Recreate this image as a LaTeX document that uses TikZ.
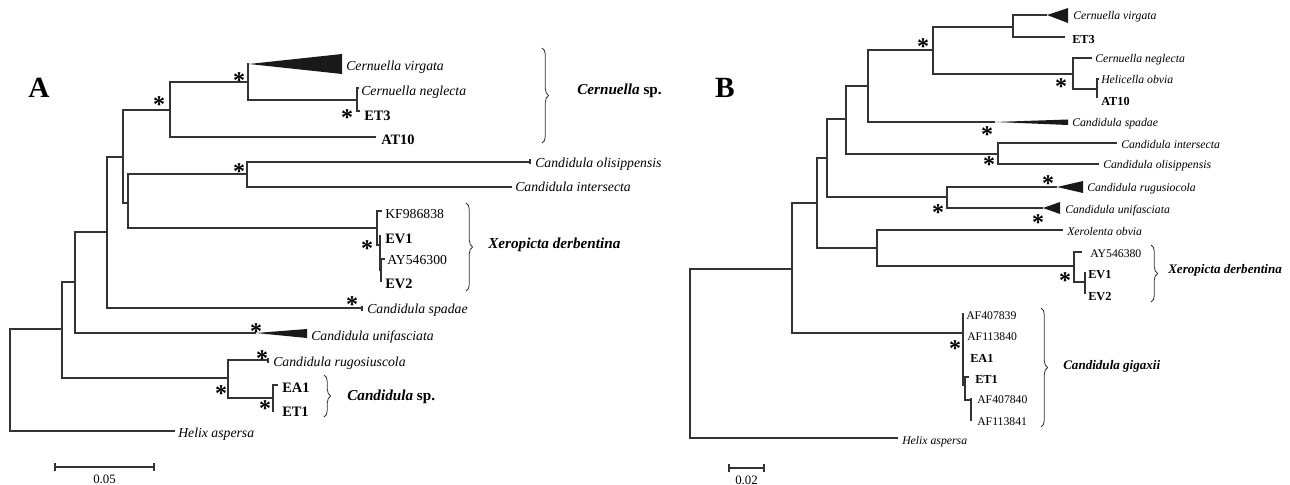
\documentclass[tikz,border=0pt]{standalone}
\usepackage{fontspec}
\setmainfont{Liberation Serif}
\usetikzlibrary{decorations.pathreplacing}
\begin{document}
\begin{tikzpicture}[x=0.75pt,y=-0.75pt,
  br/.style={draw=black!80, line width=0.8pt},
  tri/.style={fill=black!90},
  lA/.style={anchor=base west, inner sep=0pt, font=\fontsize{10.3}{12}\selectfont\itshape},
  lAb/.style={anchor=base west, inner sep=0pt, font=\fontsize{10.8}{12}\selectfont\bfseries},
  lAr/.style={anchor=base west, inner sep=0pt, font=\fontsize{10.3}{12}\selectfont},
  lB/.style={anchor=base west, inner sep=0pt, font=\fontsize{8.8}{10}\selectfont\itshape},
  lBb/.style={anchor=base west, inner sep=0pt, font=\fontsize{9.2}{10}\selectfont\bfseries},
  lBr/.style={anchor=base west, inner sep=0pt, font=\fontsize{8.8}{10}\selectfont},
  grpA/.style={anchor=base west, inner sep=0pt, font=\fontsize{11.4}{13}\selectfont\bfseries},
  grpB/.style={anchor=base west, inner sep=0pt, font=\fontsize{9.8}{11}\selectfont\bfseries},
  astk/.style={anchor=base, inner sep=0pt, yshift=-8.4pt, font=\fontsize{18}{18}\selectfont\bfseries},
  brc/.style={draw=black!80, line width=0.6pt, decorate, decoration={brace, amplitude=5pt}},
  panel/.style={anchor=base, inner sep=0pt, font=\fontsize{22}{24}\selectfont\bfseries},
  sclab/.style={anchor=base, inner sep=0pt, font=\fontsize{9.6}{11}\selectfont},
]
\path[use as bounding box] (0,0) rectangle (1290,485);

% ---------------- Tree A ----------------
\node[panel] (pA) at (39,98) {A};
\coordinate (rA) at (10,380);
\coordinate (a62) at (62,329);
\coordinate (a75) at (75,282);
\coordinate (a107) at (107,232);
\coordinate (a123) at (123,157);
\coordinate (a170) at (170,110);
\coordinate (a248) at (248,82);
\coordinate (a356) at (357,100);
\coordinate (a128) at (128,203);
\coordinate (a247) at (247,174);
\coordinate (a377) at (377,228);
\coordinate (a380) at (380,245);
\coordinate (a381) at (381,270);
\coordinate (a228) at (228,378);
\coordinate (a273) at (273,398);
\coordinate (lHelA) at (175,431);
\coordinate (lVirA) at (249,64);
\coordinate (lVirAt) at (342,54);
\coordinate (lVirAb) at (342,74);
\coordinate (lNegA) at (359,88);
\coordinate (lET3A) at (360,111);
\coordinate (lAT10A) at (376,137);
\coordinate (lOliA) at (530,162);
\coordinate (lIntA) at (512,187);
\coordinate (lKFA) at (382,211);
\coordinate (lEV1A) at (381,236);
\coordinate (lAYA) at (385,259);
\coordinate (lEV2A) at (381,282);
\coordinate (lSpaA) at (362,308);
\coordinate (lUniA) at (256,333);
\coordinate (lUniAt) at (307,329);
\coordinate (lUniAb) at (307,338);
\coordinate (lRugA) at (268,360);
\coordinate (lEA1A) at (278,385);
\coordinate (lET1A) at (274,411);

\foreach \p/\c in {rA/a62, rA/lHelA, a62/a75, a62/a228, a75/a107, a75/lUniA,
  a107/a123, a107/lSpaA, a123/a170, a123/a128, a170/a248, a170/lAT10A,
  a248/lVirA, a248/a356, a356/lNegA, a356/lET3A, a128/a247, a128/a377,
  a247/lOliA, a247/lIntA, a377/lKFA, a377/a380, a380/lEV1A, a380/a381,
  a381/lAYA, a381/lEV2A, a228/lRugA, a228/a273, a273/lEA1A, a273/lET1A}
  \draw[br] (\p) |- (\c);
\fill[tri] (lVirA) -- (lVirAt) -- (lVirAb) -- cycle;
\fill[tri] (lUniA) -- (lUniAt) -- (lUniAb) -- cycle;
\draw[br] (lOliA) ++(0,-2.5) -- ++(0,5);
\draw[br] (lSpaA) ++(0,-2.5) -- ++(0,5);
\draw[br] (lRugA) ++(0,-2.5) -- ++(0,5);

\node[lA] (tVirA) at (346,71) {Cernuella virgata};
\node[lA] (tNegA) at (361,96) {Cernuella neglecta};
\node[lAb] (tET3A) at (364,121) {ET3};
\node[lAb] (tAT10A) at (381,145) {AT10};
\node[lA] (tOliA) at (535,167) {Candidula olisippensis};
\node[lA] (tIntA) at (515,191) {Candidula intersecta};
\node[lAr] (tKFA) at (385,218) {KF986838};
\node[lAb] (tEV1A) at (385,243) {EV1};
\node[lAr] (tAYA) at (387,264) {AY546300};
\node[lAb] (tEV2A) at (385,288) {EV2};
\node[lA] (tSpaA) at (367,313) {Candidula spadae};
\node[lA] (tUniA) at (311,340) {Candidula unifasciata};
\node[lA] (tRugA) at (273,366) {Candidula rugosiuscola};
\node[lAb] (tEA1A) at (282,392) {EA1};
\node[lAb] (tET1A) at (282,416) {ET1};
\node[lA] (tHelA) at (178,437) {Helix aspersa};

\node[astk] (sA1) at (239,77) {*};
\node[astk] (sA2) at (159,101) {*};
\node[astk] (sA3) at (239,168) {*};
\node[astk] (sA4) at (347,114) {*};
\node[astk] (sA5) at (367,245) {*};
\node[astk] (sA6) at (352,301) {*};
\node[astk] (sA7) at (256,328) {*};
\node[astk] (sA8) at (262,355) {*};
\node[astk] (sA9) at (221,390) {*};
\node[astk] (sA10) at (265,405) {*};

\coordinate (bA1t) at (542,48); \coordinate (bA1b) at (542,143);
\coordinate (bA2t) at (466,203); \coordinate (bA2b) at (466,291);
\coordinate (bA3t) at (324,375); \coordinate (bA3b) at (324,417);
\draw[brc] (bA1t) -- (bA1b);
\draw[brc] (bA2t) -- (bA2b);
\draw[brc] (bA3t) -- (bA3b);
\node[grpA] (gA1) at (577,95) {\textit{Cernuella} sp.};
\node[grpA] (gA2) at (488,248) {\textit{Xeropicta derbentina}};
\node[grpA] (gA3) at (347,400) {\textit{Candidula} sp.};

\coordinate (scA1) at (55,467); \coordinate (scA2) at (154,467);
\draw[br] (scA1) -- (scA2);
\draw[br] (scA1) ++(0,-4) -- ++(0,8);
\draw[br] (scA2) ++(0,-4) -- ++(0,8);
\node[sclab] (scAt) at (104.5,483) {0.05};

% ---------------- Tree B ----------------
\node[panel] (pB) at (725,98) {B};
\coordinate (rB) at (690,300);
\coordinate (b792) at (792,269);
\coordinate (b817) at (817,203);
\coordinate (b827) at (827,158);
\coordinate (b846) at (846,119);
\coordinate (b868) at (868,86);
\coordinate (b933) at (933,50);
\coordinate (b1013) at (1013,27);
\coordinate (b1073) at (1073,74);
\coordinate (b1097) at (1097,89);
\coordinate (b998) at (998,154);
\coordinate (b947) at (947,197);
\coordinate (b877) at (877,248);
\coordinate (b1074) at (1074,266);
\coordinate (b1085) at (1085,282);
\coordinate (b963) at (963,333);
\coordinate (b967) at (965,385);
\coordinate (b972) at (971,400);

\coordinate (lHelB) at (898,438);
\coordinate (lVirB) at (1047,15);
\coordinate (lVirBt) at (1068,8);
\coordinate (lVirBb) at (1068,23);
\coordinate (lET3B) at (1065,37);
\coordinate (lNegB) at (1092,58);
\coordinate (lHceB) at (1099,79);
\coordinate (lAT10B) at (1097,98);
\coordinate (lSpaB) at (995,122);
\coordinate (lSpaBt) at (1068,119.5);
\coordinate (lSpaBb) at (1068,125);
\coordinate (lIntB) at (1117,143);
\coordinate (lOliB) at (1099,164);
\coordinate (lRugB) at (1057,187);
\coordinate (lRugBt) at (1083,181);
\coordinate (lRugBb) at (1083,193);
\coordinate (lUniB) at (1043,208);
\coordinate (lUniBt) at (1060,202);
\coordinate (lUniBb) at (1060,214);
\coordinate (lXobB) at (1063,230);
\coordinate (lAYB) at (1082,252);
\coordinate (lEV1B) at (1086,273);
\coordinate (lEV2B) at (1086,293);
\coordinate (lAF1B) at (963,313);
\coordinate (lAF2B) at (963,336);
\coordinate (lEA1B) at (963,358);
\coordinate (lET1B) at (969,377);
\coordinate (lAF3B) at (971,398);
\coordinate (lAF4B) at (971,421);

\foreach \p/\c in {rB/b792, rB/lHelB, b792/b817, b792/b963, b817/b827, b817/b877,
  b827/b846, b827/b947, b846/b868, b846/b998, b868/b933, b868/lSpaB,
  b933/b1013, b933/b1073, b1013/lVirB, b1013/lET3B, b1073/lNegB, b1073/b1097,
  b1097/lHceB, b1097/lAT10B, b998/lIntB, b998/lOliB, b947/lRugB, b947/lUniB,
  b877/lXobB, b877/b1074, b1074/lAYB, b1074/b1085, b1085/lEV1B, b1085/lEV2B,
  b963/lAF1B, b963/lAF2B, b963/lEA1B, b963/b967, b967/lET1B, b967/b972,
  b972/lAF3B, b972/lAF4B}
  \draw[br] (\p) |- (\c);
\fill[tri] (lVirB) -- (lVirBt) -- (lVirBb) -- cycle;
\fill[tri] (lSpaB) -- (lSpaBt) -- (lSpaBb) -- cycle;
\fill[tri] (lRugB) -- (lRugBt) -- (lRugBb) -- cycle;
\fill[tri] (lUniB) -- (lUniBt) -- (lUniBb) -- cycle;

\node[lB] (tVirB) at (1073,20) {Cernuella virgata};
\node[lBb] (tET3B) at (1072,44) {ET3};
\node[lB] (tNegB) at (1095,63) {Cernuella neglecta};
\node[lB] (tHceB) at (1101,84) {Helicella obvia};
\node[lBb] (tAT10B) at (1101,106) {AT10};
\node[lB] (tSpaB) at (1072,127) {Candidula spadae};
\node[lB] (tIntB) at (1121,148) {Candidula intersecta};
\node[lB] (tOliB) at (1103,168) {Candidula olisippensis};
\node[lB] (tRugB) at (1087,191) {Candidula rugusiocola};
\node[lB] (tUniB) at (1065,214) {Candidula unifasciata};
\node[lB] (tXobB) at (1067,235) {Xerolenta obvia};
\node[lBr] (tAYB) at (1090,257) {AY546380};
\node[lBb] (tEV1B) at (1088,278) {EV1};
\node[lBb] (tEV2B) at (1088,300) {EV2};
\node[lBr] (tAF1B) at (966,319) {AF407839};
\node[lBr] (tAF2B) at (967,340) {AF113840};
\node[lBb] (tEA1B) at (970,362) {EA1};
\node[lBb] (tET1B) at (975,383) {ET1};
\node[lBr] (tAF3B) at (977,403) {AF407840};
\node[lBr] (tAF4B) at (977,425) {AF113841};
\node[lB] (tHelB) at (902,444) {Helix aspersa};

\node[astk] (sB1) at (923,43) {*};
\node[astk] (sB2) at (987,131) {*};
\node[astk] (sB3) at (989,161) {*};
\node[astk] (sB4) at (1048,180) {*};
\node[astk] (sB5) at (1038,219) {*};
\node[astk] (sB6) at (938,209) {*};
\node[astk] (sB7) at (1061,83) {*};
\node[astk] (sB8) at (1065,277) {*};
\node[astk] (sB9) at (955,345) {*};

\coordinate (bB1t) at (1151,245); \coordinate (bB1b) at (1151,302);
\coordinate (bB2t) at (1041,308); \coordinate (bB2b) at (1041,427);
\draw[brc] (bB1t) -- (bB1b);
\draw[brc] (bB2t) -- (bB2b);
\node[grpB] (gB1) at (1168,273) {\textit{Xeropicta derbentina}};
\node[grpB] (gB2) at (1063,369) {\textit{Candidula gigaxii}};

\coordinate (scB1) at (729,468); \coordinate (scB2) at (764,468);
\draw[br] (scB1) -- (scB2);
\draw[br] (scB1) ++(0,-4) -- ++(0,8);
\draw[br] (scB2) ++(0,-4) -- ++(0,8);
\node[sclab] (scBt) at (746.5,484) {0.02};
\end{tikzpicture}
\end{document}
